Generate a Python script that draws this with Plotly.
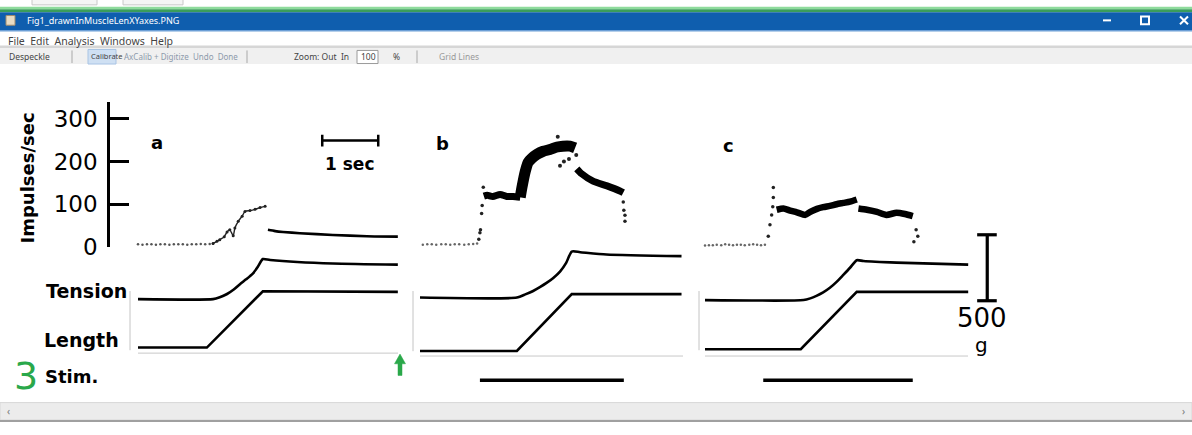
import plotly.graph_objects as go

W, H = 1192, 435

# ---------------- data ----------------
# Impulse rate (impulses/sec) against time (s) from the start of each record
a_base_t = [0.00, 0.08, 0.16, 0.24, 0.32, 0.40, 0.48, 0.56, 0.64, 0.72, 0.80, 0.88, 0.96, 1.04, 1.12, 1.20, 1.28, 1.34]
a_base_r = [6, 5, 6, 6, 5, 6, 6, 5, 6, 6, 6, 5, 6, 6, 7, 6, 7, 8]
a_rise_t = [1.34, 1.41, 1.46, 1.54, 1.59, 1.64, 1.70, 1.73, 1.79, 1.86, 1.91, 2.00, 2.09, 2.18, 2.27]
a_rise_r = [8, 13, 17, 24, 35, 40, 26, 44, 60, 72, 83, 85, 88, 92, 95]
a_post_t = [2.32, 2.45, 2.59, 2.89, 3.48, 4.09, 4.64]
a_post_r = [40, 37, 35, 32, 28, 25, 24]

b_base_t = [0.05, 0.13, 0.21, 0.29, 0.38, 0.46, 0.54, 0.62, 0.70, 0.79, 0.87, 0.95, 1.02]
b_base_r = [5, 6, 6, 5, 6, 6, 5, 6, 6, 5, 6, 7, 8]
b_jump_t = [1.05, 1.07, 1.08, 1.10, 1.11, 1.13]
b_jump_r = [18, 33, 40, 78, 97, 140]
b_plat_t = [1.14, 1.20, 1.30, 1.43, 1.55, 1.66, 1.79]
b_plat_r = [119, 121, 118, 123, 118, 118, 116]
b_top_t = [1.79, 1.82, 1.88, 1.93, 2.00, 2.09, 2.20, 2.32, 2.45, 2.55, 2.68, 2.77]
b_top_r = [116, 139, 177, 198, 208, 217, 224, 228, 234, 236, 236, 232]
b_scat_t = [2.46, 2.50, 2.57, 2.66, 2.79]
b_scat_r = [258, 190, 200, 206, 215]
b_fall_t = [2.80, 2.89, 3.09, 3.34, 3.57, 3.63]
b_fall_r = [183, 171, 154, 143, 131, 127]
b_drop_t = [3.63, 3.64, 3.66, 3.66]
b_drop_r = [105, 86, 74, 60]

c_base_t = [0.00, 0.07, 0.14, 0.21, 0.29, 0.36, 0.43, 0.50, 0.57, 0.64, 0.71, 0.79, 0.86, 0.93, 1.00, 1.07]
c_base_r = [3, 4, 4, 5, 4, 6, 5, 4, 5, 5, 4, 5, 6, 5, 4, 5]
c_jump_t = [1.13, 1.16, 1.19, 1.21, 1.22, 1.22]
c_jump_r = [25, 52, 75, 94, 116, 139]
c_plat1_t = [1.28, 1.40, 1.52, 1.64, 1.79, 1.88, 2.00, 2.11, 2.23, 2.35, 2.47, 2.59, 2.71]
c_plat1_r = [87, 90, 85, 81, 75, 82, 89, 93, 96, 100, 103, 106, 111]
c_plat2_t = [2.74, 2.89, 3.07, 3.24, 3.42, 3.57, 3.71]
c_plat2_r = [90, 87, 82, 75, 80, 77, 72]
c_drop_t = [3.77, 3.80, 3.73]
c_drop_r = [40, 25, 12]
c_tail_t = [4.35, 4.52, 4.68]
c_tail_r = [-9, -3, -3]

# Tension (g)
a_ten_t = [0, 1.34, 1.46, 1.59, 1.71, 1.82, 1.93, 2.05, 2.14, 2.23, 2.36, 3.48, 4.64]
a_ten_g = [12, 12, 26, 51, 85, 125, 162, 206, 257, 316, 309, 282, 274]
b_ten_t = [0, 1.73, 1.88, 2.02, 2.14, 2.26, 2.38, 2.50, 2.61, 2.71, 2.86, 3.33, 4.67]
b_ten_g = [24, 24, 48, 74, 103, 135, 173, 221, 287, 373, 368, 351, 338]
c_ten_t = [0, 1.76, 1.88, 1.99, 2.11, 2.23, 2.35, 2.47, 2.59, 2.71, 2.83, 3.42, 4.70]
c_ten_g = [5, 5, 18, 37, 63, 98, 143, 196, 250, 307, 301, 289, 274]

# Length (mm)
a_len_t = [0, 1.23, 2.23, 4.64]
a_len_mm = [0.3, 0.3, 10.3, 10.2]
b_len_t = [0, 1.73, 2.71, 4.67]
b_len_mm = [-0.3, -0.3, 9.8, 9.8]
c_len_t = [0, 1.71, 2.71, 4.70]
c_len_mm = [0, 0, 10.2, 10.2]

# Stimulation periods
b_stim_t = [1.07, 3.64]
c_stim_t = [1.04, 3.71]
stim_on = [1, 1]

rate_ticks = [0, 100, 200, 300]
panel_labels = ["a", "b", "c"]
TIME_BAR_S = 1.0
TIME_BAR_START = 3.29
TIME_BAR_LEVEL = 249
FORCE_BAR_G = 500

# ---------------- geometry helpers (pixels -> paper / ranges) ----------------
def fx(px):
    return px / W

def fy(py):
    return 1 - py / H

def yrange(v_ref, px_ref, ppu, top_px, bot_px):
    return [v_ref - (bot_px - px_ref) / ppu, v_ref + (px_ref - top_px) / ppu]

def xrange(v_ref, px_ref, ppu, left_px, right_px):
    return [v_ref - (px_ref - left_px) / ppu, v_ref + (right_px - px_ref) / ppu]

PX_PER_S = 56
FIG_FONT = "DejaVu Sans"
UI_FONT = "Noto Sans"

fig = go.Figure()

def add(x, y, xa, ya, mode="lines", width=2.5, size=3, color="black", clip=True):
    fig.add_trace(go.Scatter(
        x=x, y=y, xaxis=xa, yaxis=ya, mode=mode,
        line=dict(color=color, width=width, shape="spline", smoothing=0.6),
        marker=dict(color=color, size=size),
        cliponaxis=clip, hoverinfo="skip", showlegend=False))

# --- impulse rate traces ---
add(a_base_t, a_base_r, "x", "y", mode="markers", size=2.5, color="#555", clip=False)
add(a_rise_t, a_rise_r, "x", "y", mode="lines+markers", width=1.4, size=3, color="#222")
add(a_post_t, a_post_r, "x", "y", width=2.6)

add(b_base_t, b_base_r, "x2", "y", mode="markers", size=2.5, color="#666", clip=False)
add(b_jump_t, b_jump_r, "x2", "y", mode="markers", size=3.5, color="#222", clip=False)
add(b_plat_t, b_plat_r, "x2", "y", width=7)
add(b_top_t, b_top_r, "x2", "y", width=11)
add(b_scat_t, b_scat_r, "x2", "y", mode="markers", size=4, color="#222", clip=False)
add(b_fall_t, b_fall_r, "x2", "y", width=7)
add(b_drop_t, b_drop_r, "x2", "y", mode="markers", size=3.5, color="#222", clip=False)

add(c_base_t, c_base_r, "x3", "y", mode="markers", size=2.5, color="#666", clip=False)
add(c_jump_t, c_jump_r, "x3", "y", mode="markers", size=3.5, color="#222", clip=False)
add(c_plat1_t, c_plat1_r, "x3", "y", width=6.5)
add(c_plat2_t, c_plat2_r, "x3", "y", width=6.5)
add(c_drop_t, c_drop_r, "x3", "y", mode="markers", size=3.5, color="#222", clip=False)
add(c_tail_t, c_tail_r, "x3", "y", mode="markers", size=4, color="#222", clip=False)

# --- tension, length, stim ---
for xa, tt, gg, lt, ll in [("x", a_ten_t, a_ten_g, a_len_t, a_len_mm),
                           ("x2", b_ten_t, b_ten_g, b_len_t, b_len_mm),
                           ("x3", c_ten_t, c_ten_g, c_len_t, c_len_mm)]:
    add(tt, gg, xa, "y2", width=2.6)
    fig.add_trace(go.Scatter(x=lt, y=ll, xaxis=xa, yaxis="y3", mode="lines",
                             line=dict(color="black", width=2.6), hoverinfo="skip",
                             showlegend=False))
add(b_stim_t, stim_on, "x2", "y4", width=3.5)
add(c_stim_t, stim_on, "x3", "y4", width=3.5)

# ---------------- axes ----------------
hidden = dict(visible=False, fixedrange=True)
fig.update_layout(
    xaxis=dict(domain=[fx(130), fx(405)], range=xrange(0, 138, PX_PER_S, 130, 405), anchor="y2", **hidden),
    xaxis2=dict(domain=[fx(413), fx(690)], range=xrange(0, 420, PX_PER_S, 413, 690), anchor="y2", **hidden),
    xaxis3=dict(domain=[fx(699), fx(1005)], range=xrange(0, 705, PX_PER_S, 699, 1005), anchor="y2", **hidden),
    yaxis=dict(domain=[fy(255), fy(105)], range=yrange(0, 254.5, 0.44, 105, 255),
               anchor="free", position=fx(108), side="left",
               showline=True, linecolor="black", linewidth=2.5,
               ticks="inside", ticklen=19, tickwidth=2.5, tickcolor="black",
               tickvals=rate_ticks, ticktext=[str(v) for v in rate_ticks],
               tickfont=dict(family=FIG_FONT, size=23, color="black"),
               ticklabelstandoff=5,
               showgrid=False, zeroline=False, fixedrange=True),
    yaxis2=dict(domain=[0, 1], range=yrange(0, 310, 0.136, 0, H), anchor="x", **hidden),
    yaxis3=dict(domain=[0, 1], range=yrange(0, 360, 5.8, 0, H), anchor="x", **hidden),
    yaxis4=dict(domain=[0, 1], range=yrange(1, 392, 18, 0, H), anchor="x", **hidden),
)

shapes = []

def rect(x0, y0, x1, y1, fill, line=None, lw=0, layer="below"):
    shapes.append(dict(type="rect", xref="paper", yref="paper",
                       x0=fx(x0), x1=fx(x1), y0=fy(y1), y1=fy(y0),
                       fillcolor=fill, line=dict(color=line or fill, width=lw), layer=layer))

def pline(x0, y0, x1, y1, color, lw):
    shapes.append(dict(type="line", xref="paper", yref="paper",
                       x0=fx(x0), x1=fx(x1), y0=fy(y0), y1=fy(y1),
                       line=dict(color=color, width=lw)))

# scale bars (in data units)
for x0, x1, y0, y1 in [(TIME_BAR_START, TIME_BAR_START + TIME_BAR_S, TIME_BAR_LEVEL, TIME_BAR_LEVEL),
                       (TIME_BAR_START, TIME_BAR_START, TIME_BAR_LEVEL - 14, TIME_BAR_LEVEL + 14),
                       (TIME_BAR_START + TIME_BAR_S, TIME_BAR_START + TIME_BAR_S, TIME_BAR_LEVEL - 14, TIME_BAR_LEVEL + 14)]:
    shapes.append(dict(type="line", xref="x", yref="y", x0=x0, x1=x1, y0=y0, y1=y1,
                       line=dict(color="black", width=2.5)))
fbx = 5.04
for x0, x1, y0, y1 in [(fbx, fbx, 0, FORCE_BAR_G), (fbx - 0.18, fbx + 0.17, 0, 0),
                       (fbx - 0.18, fbx + 0.17, FORCE_BAR_G, FORCE_BAR_G)]:
    shapes.append(dict(type="line", xref="x3", yref="y2", x0=x0, x1=x1, y0=y0, y1=y1,
                       line=dict(color="black", width=3.2)))

# faint frame lines from the scan
for x, ya, yb in [(130, 300, 361), (413, 300, 362), (699, 300, 361)]:
    pline(x, ya, x, yb, "#c4c4c4", 1)
for xa, xb, y in [(138, 398, 364), (420, 683, 367), (705, 968, 367)]:
    pline(xa, y, xb, y, "#c8c8c8", 1)

# green arrow
shapes.append(dict(type="path", xref="paper", yref="paper",
                   path="M {} {} L {} {} L {} {} L {} {} L {} {} L {} {} L {} {} Z".format(
                       fx(400), fy(365), fx(405.5), fy(375), fx(402), fy(375), fx(402), fy(387),
                       fx(398), fy(387), fx(398), fy(375), fx(394.5), fy(375)),
                   fillcolor="#2aa84a", line=dict(color="#2aa84a", width=0.5)))

# ---------------- window chrome ----------------
rect(32, -2, 97, 5, "#f5f5f5", "#c8c8c8", 1)
rect(123, -2, 183, 5, "#f5f5f5", "#c8c8c8", 1)
rect(0, 7, W, 9.5, "#8edb9c")
rect(0, 9.5, W, 12.5, "#3a9d5b")
rect(0, 12.5, W, 31, "#0f5eae")
rect(0, 31, W, 32.5, "#6c9fd6")
rect(6, 16, 15, 26, "#e8dcc4", "#a08c6c", 1, layer="above")
rect(0, 47, W, 49.5, "#d6d6d6")
rect(0, 49.5, W, 66, "#f0f0f0")
rect(88, 51, 116, 66, "#cfe0f3", "#a9c4e4", 1)
rect(357, 52, 378, 65.5, "#ffffff", "#9a9a9a", 1)
rect(0, 415, W, 433, "#ececec", "#d8d8d8", 1)
rect(0, 433, W, 435, "#a0a0a0")
for x in (72, 247, 417):
    pline(x, 52, x, 65, "#a8a8a8", 1)
# window buttons
pline(1103, 21, 1111, 21, "white", 2)
shapes.append(dict(type="rect", xref="paper", yref="paper", x0=fx(1141), x1=fx(1149),
                   y0=fy(25), y1=fy(17), line=dict(color="white", width=2)))
pline(1180, 17, 1188, 25, "white", 2)
pline(1180, 25, 1188, 17, "white", 2)

fig.update_layout(shapes=shapes)

# ---------------- text ----------------
anns = []

def ann(text, x, y, size, color="black", bold=False, family=FIG_FONT, angle=0, xanchor="center"):
    anns.append(dict(text=text, x=fx(x), y=fy(y), xref="paper", yref="paper",
                     showarrow=False, xanchor=xanchor, yanchor="middle", textangle=angle,
                     font=dict(family=family, size=size, color=color,
                               weight="bold" if bold else "normal")))

ann("Impulses/sec", 28, 184, 18, bold=True, angle=-90)
label_pos = [(157, 147), (442, 148), (728, 150)]
for lab, (x, y) in zip(panel_labels, label_pos):
    ann(lab, x, y, 18, bold=True)
ann("1 sec", 349, 169, 17, bold=True)
ann("Tension", 86, 300, 19, bold=True)
ann("Length", 81, 350, 19, bold=True)
ann("Stim.", 71, 388, 18, bold=True)
ann("3", 26, 388, 38, color="#2aa84a")
ann("500", 982, 328, 26)
ann("g", 981, 356, 20)

ann("Fig1_drawnInMuscleLenXYaxes.PNG", 25, 21, 9, color="white", family=UI_FONT, xanchor="left")
ann("File  Edit  Analysis  Windows  Help", 6, 42, 10.5, color="#444", family=UI_FONT, xanchor="left")
ann("Despeckle", 7, 58, 8.5, color="#444", family=UI_FONT, xanchor="left")
ann("Calibrate", 89, 58, 7.5, color="#444", family=UI_FONT, xanchor="left")
ann("AxCalib + Digitize  Undo  Done", 122, 58, 8, color="#8d9aab", family=UI_FONT, xanchor="left")
ann("Zoom: Out  In", 292, 58, 8.5, color="#444", family=UI_FONT, xanchor="left")
ann("100", 359, 58, 8.5, color="#444", family=UI_FONT, xanchor="left")
ann("%", 391, 58, 8.5, color="#444", family=UI_FONT, xanchor="left")
ann("Grid Lines", 437, 58, 8.5, color="#999", family=UI_FONT, xanchor="left")
ann("‹", 8, 424, 10, color="#777", family=UI_FONT)
ann("›", 1183, 424, 10, color="#777", family=UI_FONT)

fig.update_layout(annotations=anns,
                  width=W, height=H, margin=dict(l=0, r=0, t=0, b=0),
                  paper_bgcolor="white", plot_bgcolor="rgba(0,0,0,0)",
                  showlegend=False)

page_fix = """
var de = document.documentElement, b = document.body;
de.style.margin = '0'; de.style.padding = '0'; de.style.overflow = 'hidden';
b.style.margin = '0'; b.style.padding = '0'; b.style.overflow = 'hidden';
"""
fig.write_html("out.html", config={"displayModeBar": False}, post_script=page_fix)
